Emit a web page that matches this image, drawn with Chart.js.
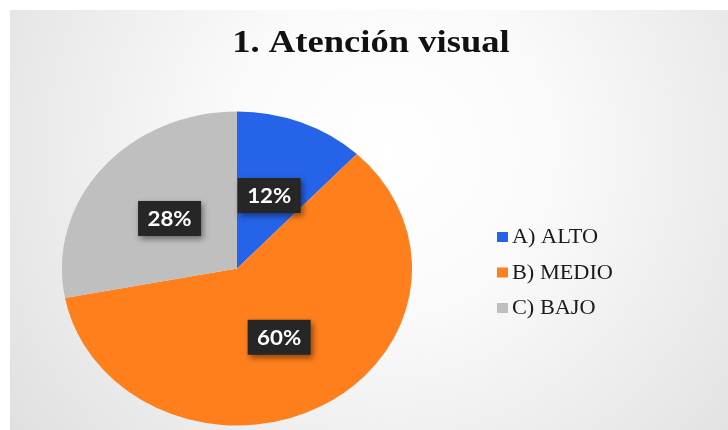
<!DOCTYPE html>
<html>
<head>
<meta charset="utf-8">
<script src="https://cdn.jsdelivr.net/npm/chart.js@4.4.1/dist/chart.umd.min.js"></script>
<style>
html,body{margin:0;padding:0;background:#fff;}
#wrap{width:728px;height:430px;position:relative;}
</style>
</head>
<body>
<div id="wrap"><canvas id="c" width="728" height="430"></canvas></div>
<script>
const titleText = "1. Atención visual";
const categories = ["A) ALTO", "B) MEDIO", "C) BAJO"];
const values = [12, 60, 28];
const valueLabels = ["12%", "60%", "28%"];
const colors = ["#2563E8", "#FF7F1C", "#BFBFBF"];

const SX = 1.115; // horizontal stretch of the original picture

function stretchedText(ctx, txt, x, y, sx) {
  ctx.save();
  ctx.translate(x, y);
  ctx.scale(sx, 1);
  ctx.fillText(txt, 0, 0);
  ctx.restore();
}

const decor = {
  id: 'decor',
  beforeDraw(chart) {
    const ctx = chart.ctx;
    ctx.save();
    ctx.fillStyle = '#ffffff';
    ctx.fillRect(0, 0, 728, 430);
    const g = ctx.createRadialGradient(390, 150, 0, 390, 150, 470);
    g.addColorStop(0, '#ffffff');
    g.addColorStop(0.35, '#fafafa');
    g.addColorStop(1, '#e0e0e0');
    ctx.fillStyle = g;
    ctx.fillRect(10, 10, 718, 420);
    ctx.restore();
  },
  beforeDatasetsDraw(chart) {
    const arc = chart.getDatasetMeta(0).data[0];
    const ctx = chart.ctx;
    ctx.save();
    ctx.translate(arc.x, arc.y);
    ctx.scale(SX, 1);
    ctx.translate(-arc.x, -arc.y);
  },
  afterDatasetsDraw(chart) {
    chart.ctx.restore();
  },
  afterDraw(chart) {
    const ctx = chart.ctx;
    const meta = chart.getDatasetMeta(0);
    // data labels
    meta.data.forEach((arc, i) => {
      const mid = (arc.startAngle + arc.endAngle) / 2;
      const r = arc.outerRadius * 0.5;
      const x = arc.x + Math.cos(mid) * r * SX;
      const y = arc.y + Math.sin(mid) * r;
      const w = 63, h = 35;
      ctx.save();
      ctx.shadowColor = 'rgba(0,0,0,0.45)';
      ctx.shadowBlur = 6;
      ctx.shadowOffsetX = 2;
      ctx.shadowOffsetY = 3;
      ctx.fillStyle = '#262626';
      ctx.fillRect(x - w / 2, y - h / 2, w, h);
      ctx.restore();
      ctx.save();
      ctx.fillStyle = '#ffffff';
      ctx.font = 'bold 20px Lato, "Liberation Sans", sans-serif';
      ctx.textAlign = 'center';
      ctx.textBaseline = 'middle';
      stretchedText(ctx, valueLabels[i], x, y + 1, SX);
      ctx.restore();
    });
    // title
    ctx.save();
    ctx.fillStyle = '#111111';
    ctx.font = 'bold 31px "Liberation Serif", "Times New Roman", serif';
    ctx.textAlign = 'center';
    ctx.textBaseline = 'alphabetic';
    stretchedText(ctx, titleText, 371, 52, 1.18);
    ctx.restore();
    // legend
    ctx.save();
    categories.forEach((c, i) => {
      const cy = 237 + i * 35.5;
      ctx.fillStyle = colors[i];
      ctx.fillRect(497, cy - 5, 11, 10);
      ctx.fillStyle = '#1a1a1a';
      ctx.font = '20px "Liberation Serif", "Times New Roman", serif';
      ctx.textAlign = 'left';
      ctx.textBaseline = 'middle';
      stretchedText(ctx, c, 512, cy + 1, SX);
    });
    ctx.restore();
  }
};

new Chart(document.getElementById('c'), {
  type: 'pie',
  data: {
    labels: categories,
    datasets: [{
      data: values,
      backgroundColor: colors,
      borderWidth: 0
    }]
  },
  options: {
    responsive: false,
    animation: false,
    layout: { padding: { top: 111, bottom: 4, left: 80, right: 334 } },
    plugins: {
      legend: { display: false },
      title: { display: false },
      tooltip: { enabled: false }
    }
  },
  plugins: [decor]
});
</script>
</body>
</html>
